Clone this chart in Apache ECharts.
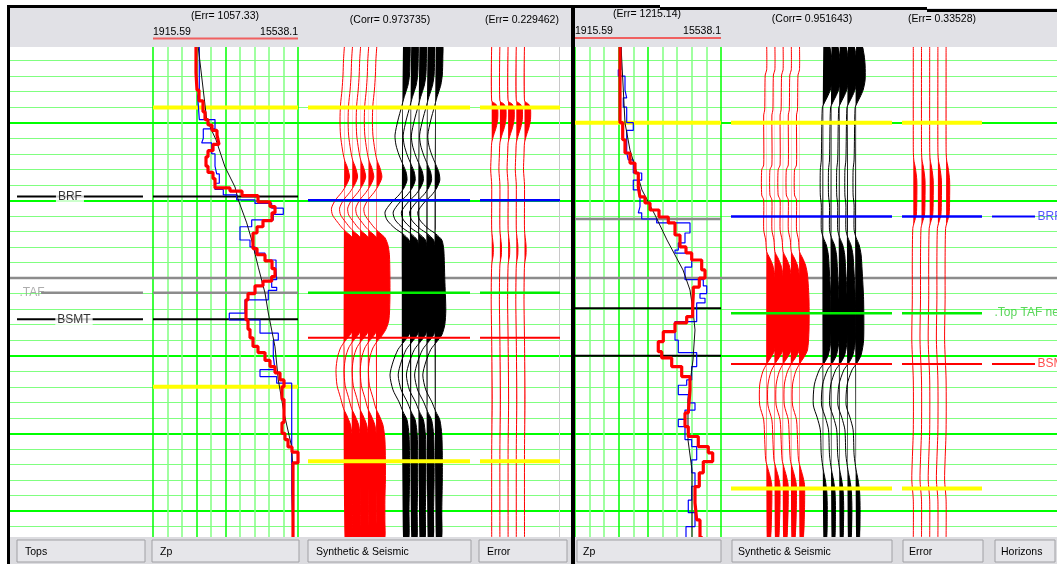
<!DOCTYPE html>
<html><head><meta charset="utf-8">
<script src="https://cdn.jsdelivr.net/npm/echarts@6/dist/echarts.min.js"></script>
<style>html,body{margin:0;padding:0;background:#fff}#c{width:1057px;height:564px}</style>
</head><body><div id="c"></div><script>
// ---------------- DATA ----------------
const T_MAX = 317;                       // time axis extent (ms-like units)
const ZP_MIN = 1915.59, ZP_MAX = 15538.1; // Zp scale of both Zp tracks

// Zp logs, [Zp, time] (left well)
const leftZpRed = [[5955,0],[6049,18],[6237,29],[6613,36],[6801,43],[7083,48],[7459,51.5],[7929,55],[8116,58],[7553,64],[7083,68],[6895,72],[7083,78],[7553,82],[7741,86],[9150,92],[10277,94],[11780,97],[12908,101],[13378,104],[13096,108],[12250,113],[11687,117],[11311,121],[11687,131],[12438,135],[13096,139],[13378,144],[13066,149],[12250,152],[11499,155],[10841,160],[10653,164],[10841,177],[11029,183],[11311,188.5],[11780,194],[12438,198],[12908,203],[13378,207],[13847,211],[14223,215.6],[14035,220],[14223,228],[14035,243],[14317,250],[14599,254],[14975,258.7],[15539,262],[15069,269],[15069,317]];
const leftZpBlue = [[6265,0],[6115,29],[6265,33],[7741,48],[6641,54],[6491,60],[7430,63],[7741,70],[7900,78],[8145,83],[7741,89],[8520,93],[9779,96.5],[11499,99.7],[13066,102],[14157,105],[13218,109],[11188,112.6],[10089,117],[11029,125.5],[11499,130],[12438,134],[13472,138.4],[13537,145],[13066,151],[13537,156],[12748,158],[10559,164],[9084,172.6],[11968,177],[13688,185.5],[13218,190],[13378,200.6],[11968,209],[13537,213.4],[14947,217.7],[15097,288],[15097,317]];
const leftZpBlack = [[6143,0],[6961,48],[7835,61],[8680,78.5],[9620,91.4],[9929,99.7],[10719,114.5],[11188,125.5],[11808,143],[12438,159.6],[12748,172.5],[13378,194.3],[13688,215.6],[14223,236.8],[14947,258.7],[15097,280],[15097,317]];

// Zp logs, [Zp, time] (right well)
const rightZpRed = [[6114,0],[6366,50],[6581,61],[7047,69.5],[7514,76],[7822,82.4],[7980,91.4],[8447,97.8],[8913,101.7],[9753,106.2],[10620,110.7],[11246,114.5],[11712,122.3],[12272,130],[12804,133.8],[13737,138.4],[14045,144.8],[13513,150],[12953,155.8],[12897,160],[12897,168.4],[12337,174.8],[11246,178.9],[10154,184.5],[9687,190.9],[10005,197.4],[10938,201.4],[11871,207],[12645,213.4],[12486,222],[12179,236.8],[12486,245.6],[13419,252],[14352,258.5],[14763,262.5],[13886,268.1],[13513,275.4],[13112,284.2],[13270,294.7],[13578,305.7],[13830,317]];
const rightZpBlue = [[6207,0],[5955,16],[6581,20],[6739,29],[6422,34],[6739,40],[7355,50],[6739,55],[6888,69.5],[7355,74],[8139,82.4],[7355,87],[7980,93.3],[7822,104],[8139,108],[9538,112],[12645,114.5],[12179,121],[11554,127.4],[11246,132],[12804,134],[12179,143],[13886,151],[14204,155],[13578,160],[14045,163],[13270,166],[11246,178],[11554,190],[13270,198],[12804,207],[12337,215.6],[11554,219],[12486,225],[13112,230.4],[12179,235],[11554,241],[12179,245.6],[12804,254],[13270,258.5],[12804,267],[13112,275.4],[12804,284],[12486,293],[13112,301],[12272,310],[13270,317]];
const rightZpBlack = [[6207,0],[6581,50.2],[7047,67.6],[8166,93.3],[9380,109.4],[10499,125.5],[11992,144.8],[12645,157.7],[12925,170.5],[13112,183.4],[12925,202.7],[12459,228.4],[12459,254.2],[12832,273.5],[12832,317]];

// Trace waveforms, [time, amplitude]
const leftSynWave = [[0,0],[9.7,-1],[19.3,-1.5],[29,-2.5],[38.6,-4],[48.3,-4.5],[58,-4],[67.6,-2],[74,0],[79,3],[85,5],[90,2],[95,-3],[99.7,-9],[105,-13],[109.4,-12],[114,-7],[118,-2],[121,3],[124,8],[128.7,11],[135,12.5],[148,13],[164,13],[177,12],[183,9],[188,4],[191,0],[195,-4],[201,-7],[209,-8.5],[219,-7.5],[227,-4],[234,-1],[238,2],[244.5,6],[254,8],[267,8.5],[280,8.5],[293,8],[305.7,8],[317,8]];
const leftSeisWave = [[0,7],[9.7,7],[19.3,6.5],[25.7,5],[30,3],[34,1],[40,-1.5],[48.3,-5],[58,-8],[64.4,-7],[70.8,-4],[77,0],[81.7,3],[87,4],[92,1],[96.5,-4],[101.7,-12],[107.5,-18],[112.6,-16],[118,-8],[121.6,0],[125.5,6],[132,8],[151,9],[170.5,10],[180,9],[186.6,6],[191,1],[196,-5],[204,-10],[212.4,-13],[222,-10],[229.7,-4],[236,0],[241.3,4],[251,6],[264,6.5],[280,6.5],[299,6],[317,6]];
const leftErrWave = [[0,0],[36,0],[38,4],[41,6],[48,6],[53,4.5],[58,2],[63,0],[70.8,-0.5],[80.4,-1],[90,0],[119,0],[128.7,1.5],[135,1.5],[141.6,0],[164,-0.5],[190,0],[228,0.5],[260.6,0],[317,0]];
const rightSynWave = [[0,0],[16,0],[19.3,-1.5],[41.8,-2],[45,-3],[77.2,-3],[80.4,-5],[96.5,-5],[99.7,-3],[119,-3],[125.5,-1],[133,0],[137,3],[141.6,6],[148,8],[164,9.5],[183.4,9.5],[196.3,8],[201.4,4],[205.3,0],[210.4,-4],[218.8,-7],[231.7,-7],[241.3,-3],[254,-2],[267,-1],[272.2,1],[276.7,3],[283,5],[299.2,5],[317,4]];
const rightSeisWave = [[0,6],[6.4,8],[12.9,9],[22.5,9],[29,7],[33.5,4],[37.3,1],[40.5,-1],[74,-2],[80.4,-3],[96.5,-3],[103,-2],[119,-2],[124,0],[128.7,3],[135,5],[144.8,6],[164,7.5],[190,7.5],[199.5,5],[204.6,1],[209.1,-4],[218.8,-9],[231.7,-10],[240,-6],[247.7,-3],[263.8,-2],[273.5,0],[280,2],[287.6,3.5],[299,4],[317,3.5]];
const rightErrWave = [[0,0],[67.6,0],[74,0.5],[79,2],[87,3.5],[99.7,3.5],[109.4,3],[114,1],[118,-0.5],[138.4,-1],[164,-1],[190,-1.5],[215.6,0],[247.7,0],[267,-1],[280,-1.5],[292.8,0],[317,0]];

// Horizon / top picks (time)
const leftTopsNames = ['BRF', '.TAF', 'BSMT'];
const leftTopsTime = [97.5, 159.4, 176.5];
const leftZpHorizonTime = [40.3, 97.5, 159.4, 176.5, 220];
const leftSynHorizonTime = [40.3, 100, 159.4, 188.5, 268];
const rightZpHorizonTime = [50, 112, 169.4, 200];
const rightSynHorizonTime = [50, 110.4, 172.6, 205.3, 285.5];
const rightHorizonNames = ['BRF2', '.Top TAF new', 'BSMT'];
const rightHorizonTime = [110.4, 172.6, 205.3];
const cursorTime = 150;

// Header / button texts
const leftHeader = ['(Err= 1057.33)', '(Corr= 0.973735)', '(Err= 0.229462)'];
const rightHeader = ['(Err= 1215.14)', '(Corr= 0.951643)', '(Err= 0.33528)'];
const leftButtons = ['Tops', 'Zp', 'Synthetic & Seismic', 'Error'];
const rightButtons = ['Zp', 'Synthetic & Seismic', 'Error', 'Horizons'];

// ---------------- LAYOUT / STYLE ----------------
const YEL = '#ffff00', BLK = '#000000', GRY = '#8c8c8c', BLU = '#0000ff', GRN = '#00ee00', RED = '#ff0000';
const BR = '#00ff00', LT = '#80ff80';
const leftTopsStyle = [[BLK, 2, 5.2, 98.5, 44.4, 'inside'], [GRY, 2.5, 23, 98.5, 5.2, 'right'], [BLK, 2, 5.2, 98.5, 47.4, 'inside']];
const leftTopsTextColor = ['#000', '#999', '#000'];
const leftZpHorizonStyle = [[YEL, 4], [BLK, 2], [GRY, 2.5], [BLK, 2], [YEL, 4]];
const synHorizonStyle = [[YEL, 4], [BLU, 2.5], [GRN, 2.5], [RED, 2], [YEL, 4]];
const rightZpHorizonStyle = [[YEL, 4], [GRY, 2.5], [BLK, 2], [BLK, 2]];
const rightHorStyle = [[BLU, 2, true], [GRN, 0, false], [RED, 2, true]];
const rightHorTextColor = ['#2a2aff', '#33cc33', '#ff2020'];

const TOP = 45, H = 492.5;
// grid boxes [left, width, xmax]
const boxes = [[10,562,1],[10,135,100],[153,145,10],[308,162,162],[480,80,80],[575,482,1],[575,146,10],[731,161,161],[902,80,80],[992,65,65]];
const lSynBases = [36.5,44.6,52.7,60.8,68.9], lSeisBases = [95,103.2,111.4,119.6,127.8], lErrBases = [11.7,19.9,28.1,36.3,44.5];
const rSynBases = [35.7,43.9,52.1,60.3,68.5], rSeisBases = [92.3,100.5,108.7,116.9,125.1], rErrBases = [11.3,19.5,27.7,35.9,44.1];
const FONT = '10.5px "Liberation Sans", Arial, sans-serif';

const grid = boxes.map(b => ({left: b[0], width: b[1], top: TOP, height: H}));
const zpGridColors = [BR,LT,LT,BR,LT,BR,LT,LT,LT,LT,BR];
const xAxis = boxes.map((b, i) => (i === 2 || i === 6) ? {
  type: 'value', gridIndex: i, min: 0, max: 10, interval: 1,
  axisLine: {show: false}, axisTick: {show: false}, axisLabel: {show: false},
  splitLine: {show: true, lineStyle: {color: zpGridColors, width: 1.5}}
} : {type: 'value', gridIndex: i, min: 0, max: b[2], show: false});
xAxis.push({type: 'value', gridIndex: 2, min: ZP_MIN, max: ZP_MAX, show: false});
xAxis.push({type: 'value', gridIndex: 6, min: ZP_MIN, max: ZP_MAX, show: false});

function gridY(gi, interval, color, width) {
  return {type: 'value', gridIndex: gi, inverse: true, min: 0, max: T_MAX, interval,
    axisLine: {show: false}, axisTick: {show: false}, axisLabel: {show: false},
    splitLine: {show: true, lineStyle: {color, width}}};
}
const yAxis = boxes.map((b, i) => (i === 0 || i === 5) ? gridY(i, 10, LT, 1.2)
  : {type: 'value', gridIndex: i, inverse: true, min: 0, max: T_MAX, show: false});
yAxis.push(gridY(0, 50, BR, 2));
yAxis.push(gridY(5, 50, BR, 2));

const series = [];
function hz(ax, t, x0, x1, color, width, z) {
  series.push({type: 'line', xAxisIndex: ax, yAxisIndex: ax, data: [[x0, t], [x1, t]], symbol: 'none',
    silent: true, lineStyle: {color, width}, z: z || 4});
}
function label(ax, x, t, text, color, pos, bg) {
  series.push({type: 'scatter', xAxisIndex: ax, yAxisIndex: ax, data: [[x, t]], symbolSize: 1,
    itemStyle: {color: 'rgba(0,0,0,0)'}, silent: true, z: 8,
    label: {show: true, formatter: text, position: pos, distance: 0, color, font: FONT,
      backgroundColor: bg || 'transparent', padding: [1, 2]}});
}
function makeWiggle(wave, color) {
  return function (params, api) {
    const b = api.value(0);
    const line = wave.map(p => api.coord([b + p[1], p[0]]));
    const fill = [api.coord([b, wave[0][0]])];
    for (let i = 0; i < wave.length; i++) {
      const t = wave[i][0], a = wave[i][1];
      if (i > 0) {
        const t0 = wave[i - 1][0], a0 = wave[i - 1][1];
        if (a0 * a < 0) fill.push(api.coord([b, t0 + (t - t0) * a0 / (a0 - a)]));
      }
      fill.push(api.coord([b + Math.max(a, 0), t]));
    }
    fill.push(api.coord([b, wave[wave.length - 1][0]]));
    return {type: 'group', children: [
      {type: 'polygon', shape: {points: fill, smooth: 0.25}, style: {fill: color}},
      {type: 'polyline', shape: {points: line, smooth: 0.25}, style: {stroke: color, lineWidth: 1, fill: null}}
    ]};
  };
}
function wiggles(ax, bases, wave, color) {
  series.push({type: 'custom', xAxisIndex: ax, yAxisIndex: ax, data: bases.map(b => [b, 0]),
    renderItem: makeWiggle(wave, color), clip: true, silent: true, z: 3});
}
function zpLine(xa, ya, data, color, width, step, z) {
  series.push({type: 'line', xAxisIndex: xa, yAxisIndex: ya, data, step: step ? 'start' : false,
    symbol: 'none', silent: true, lineStyle: {color, width}, z});
}

// cursor lines across both panels
hz(0, cursorTime, 0, 1, GRY, 2.5, 2);
hz(5, cursorTime, 0, 1, GRY, 2.5, 2);

// Left: tops
leftTopsTime.forEach((t, i) => {
  const s = leftTopsStyle[i];
  hz(1, t, s[2], s[3], s[0], s[1]);
  label(1, s[4], t, leftTopsNames[i], leftTopsTextColor[i], s[5], s[5] === 'inside' ? '#fff' : null);
});
// Left: Zp
leftZpHorizonTime.forEach((t, i) => hz(2, t, 0, 10, leftZpHorizonStyle[i][0], leftZpHorizonStyle[i][1]));
zpLine(10, 2, leftZpBlue, BLU, 1.2, true, 5);
zpLine(10, 2, leftZpBlack, '#111', 1, false, 6);
zpLine(10, 2, leftZpRed, RED, 3.2, true, 7);
// Left: synthetic & seismic, error
wiggles(3, lSynBases, leftSynWave, RED);
wiggles(3, lSeisBases, leftSeisWave, BLK);
wiggles(4, lErrBases, leftErrWave, RED);
leftSynHorizonTime.forEach((t, i) => {
  hz(3, t, 0, 162, synHorizonStyle[i][0], synHorizonStyle[i][1]);
  hz(4, t, 0, 80, synHorizonStyle[i][0], synHorizonStyle[i][1]);
});
// Right: Zp
rightZpHorizonTime.forEach((t, i) => hz(6, t, 0, 10, rightZpHorizonStyle[i][0], rightZpHorizonStyle[i][1]));
zpLine(11, 6, rightZpBlue, BLU, 1.2, true, 5);
zpLine(11, 6, rightZpBlack, '#111', 1, false, 6);
zpLine(11, 6, rightZpRed, RED, 3.2, true, 7);
// Right: synthetic & seismic, error
wiggles(7, rSynBases, rightSynWave, RED);
wiggles(7, rSeisBases, rightSeisWave, BLK);
wiggles(8, rErrBases, rightErrWave, RED);
rightSynHorizonTime.forEach((t, i) => {
  hz(7, t, 0, 161, synHorizonStyle[i][0], synHorizonStyle[i][1]);
  hz(8, t, 0, 80, synHorizonStyle[i][0], synHorizonStyle[i][1]);
});
// Right: horizons track
rightHorizonTime.forEach((t, i) => {
  const s = rightHorStyle[i];
  if (s[2]) { hz(9, t, 0, 43, s[0], s[1]); label(9, 43, t, rightHorizonNames[i], rightHorTextColor[i], 'right'); }
  else label(9, 0, t, rightHorizonNames[i], rightHorTextColor[i], 'right');
});

// ---------------- GRAPHIC (frame, header, buttons) ----------------
const G = [];
function rect(x, y, w, h, fill, stroke, z) { G.push({type: 'rect', z: z || 100, shape: {x, y, width: w, height: h}, style: {fill, stroke: stroke || null, lineWidth: 1}}); }
function txt(x, y, text, align, color) { G.push({type: 'text', z: 102, x, y, style: {text, fill: color || '#000', font: FONT, align: align || 'left', verticalAlign: 'middle'}}); }
rect(10, 8, 562, 39, '#e1e1e6');
rect(574, 8, 483, 39, '#e1e1e6');
rect(559, 47, 1, 490, '#c8c8c8', null, 1);
txt(225, 16, leftHeader[0], 'center'); txt(153, 32, '1915.59'); txt(298, 32, '15538.1', 'right');
rect(153, 37.5, 145, 2, '#f06060', null, 101);
txt(390, 20, leftHeader[1], 'center'); txt(522, 20, leftHeader[2], 'center');
txt(647, 14, rightHeader[0], 'center'); txt(575, 31, '1915.59'); txt(721, 31, '15538.1', 'right');
rect(575, 37, 146, 2, '#f06060', null, 101);
txt(812, 19, rightHeader[1], 'center'); txt(942, 19, rightHeader[2], 'center');
// bottom band and buttons
rect(10, 537, 561, 27, '#dcdce0');
rect(575, 537, 482, 27, '#dcdce0');
const lBtn = [[17,128],[152,147],[308,163],[479,88]];
const rBtn = [[577,144],[732,160],[903,80],[995,60]];
lBtn.forEach((b, i) => { rect(b[0], 540, b[1], 22, '#e6e6ea', '#a0a0a4', 101); txt(b[0] + 8, 552, leftButtons[i]); });
rBtn.forEach((b, i) => { rect(b[0], 540, b[1], 22, '#e6e6ea', '#a0a0a4', 101); txt(b[0] + 6, 552, rightButtons[i]); });
// frame
rect(7, 5, 3, 559, '#000', null, 110);
rect(7, 5, 653, 3, '#000', null, 110);
rect(660, 7, 267, 3, '#000', null, 110);
rect(927, 9, 130, 3, '#000', null, 110);
rect(571, 5, 4, 559, '#000', null, 110);

const chart = echarts.init(document.getElementById('c'), null, {renderer: 'canvas'});
chart.setOption({
  animation: false,
  backgroundColor: '#ffffff',
  grid, xAxis, yAxis, series,
  graphic: {elements: G}
});
</script></body></html>
